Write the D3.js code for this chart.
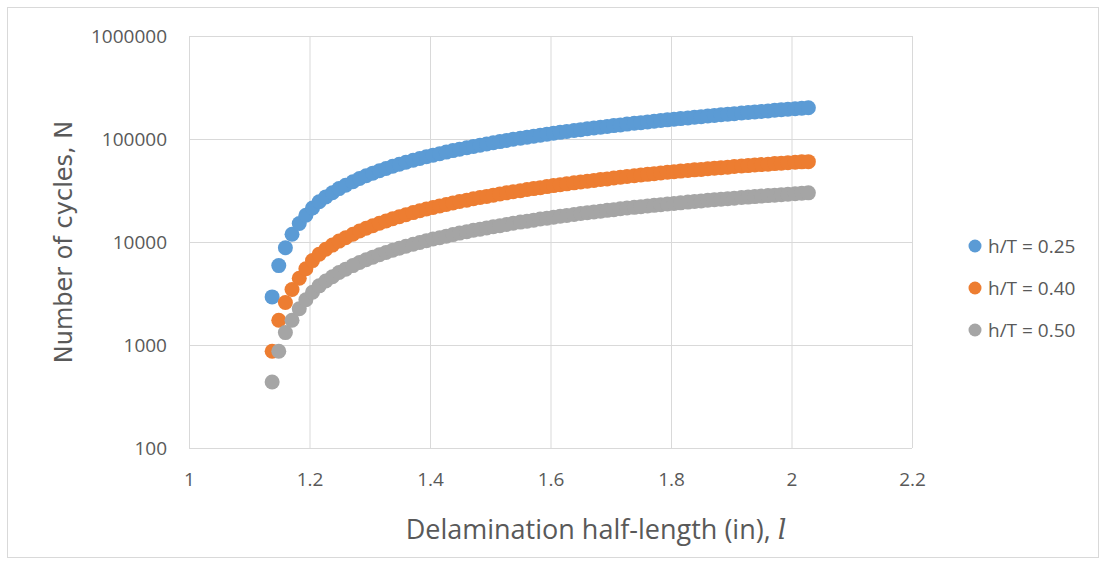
<!DOCTYPE html>
<meta charset="utf-8">

<style type="text/css">
  body {
  	margin: 0;
  	background: white;
  }

  .grid line {
  	stroke: #d9d9d9;
  	stroke-width: 1;
  }

  .grid path {
  	display: none;
  }

  .grid text {
  	fill: #595959;
  	font-family: "Open Sans", sans-serif;
  	font-size: 19px;
  }

  .axis-title {
  	fill: #595959;
  }

  .legend text {
  	fill: #595959;
  	font-family: "Open Sans", sans-serif;
  	font-size: 19px;
  }
</style>

<body>
	<div class="g-chart-container"></div>
</body>

<script src="https://d3js.org/d3.v7.min.js"></script>

<script>

// delamination half-length l (in) for each computed point
var halfLength = [
	1.138,1.149,1.160,1.171,1.183,1.194,1.205,1.216,1.227,1.238,
	1.249,1.260,1.272,1.283,1.294,1.305,1.316,1.327,1.338,1.349,
	1.360,1.372,1.383,1.394,1.405,1.416,1.427,1.438,1.449,1.461,
	1.472,1.483,1.494,1.505,1.516,1.527,1.538,1.550,1.561,1.572,
	1.583,1.594,1.605,1.616,1.627,1.639,1.650,1.661,1.672,1.683,
	1.694,1.705,1.716,1.727,1.739,1.750,1.761,1.772,1.783,1.794,
	1.805,1.816,1.828,1.839,1.850,1.861,1.872,1.883,1.894,1.905,
	1.917,1.928,1.939,1.950,1.961,1.972,1.983,1.994,2.006,2.017,
	2.028
];

// number of cycles N, h/T = 0.25
var cycles025 = [
	2930,5900,8800,11900,15100,18200,21400,24600,27400,30100,
	33000,35600,38500,41300,44000,46600,49200,51700,54300,56800,
	59400,62200,64700,67300,69700,72100,74600,77200,79600,82200,
	84700,87100,89500,92000,94400,96800,99300,101800,104200,106400,
	108900,111400,113800,116100,118300,121100,123300,125600,127900,130300,
	132400,134900,137100,139600,142200,144200,146600,148900,151000,153500,
	155600,157800,160300,162900,164800,167100,169400,171800,173800,176200,
	178600,180700,183200,185400,187500,190100,192300,194500,196800,199100,
	201000
];

// h/T = 0.40
var cycles040 = [
	870,1740,2590,3460,4450,5500,6600,7600,8500,9330,
	10200,11000,11900,12800,13600,14400,15200,16000,16800,17600,
	18400,19300,20100,20900,21600,22400,23100,23900,24700,25500,
	26300,27000,27700,28500,29300,30000,30800,31500,32300,33000,
	33700,34500,35300,36000,36700,37500,38200,38900,39600,40400,
	41000,41800,42500,43300,44000,44700,45400,46100,46800,47500,
	48200,48800,49500,50200,50700,51400,52000,52700,53300,54000,
	54700,55200,55900,56400,57000,57700,58300,58800,59400,60000,
	60300
];

// h/T = 0.50
var cycles050 = [
	437,870,1320,1740,2250,2750,3250,3750,4180,4600,
	5050,5450,5900,6320,6730,7130,7530,7920,8310,8700,
	9090,9520,9900,10300,10700,11000,11400,11800,12200,12600,
	13000,13300,13700,14100,14400,14800,15200,15600,15900,16300,
	16700,17000,17400,17800,18100,18500,18900,19200,19600,19900,
	20300,20600,21000,21400,21700,22000,22400,22700,23000,23400,
	23700,24000,24400,24700,25000,25400,25700,26000,26300,26600,
	27000,27300,27600,27900,28200,28500,28800,29100,29400,29700,
	30000
];

var seriesNames = ["h/T = 0.25", "h/T = 0.40", "h/T = 0.50"];
var seriesColors = ["#5b9bd5", "#ed7d31", "#a5a5a5"];

var xTicks = [1, 1.2, 1.4, 1.6, 1.8, 2, 2.2];
var yTicks = [100, 1000, 10000, 100000, 1000000];

var margin = {top: 36, right: 194, bottom: 117, left: 189};

var W = 1106, H = 565;
var w = W - margin.left - margin.right,
    h = H - margin.top - margin.bottom;

var xscale = d3.scaleLinear()
	.domain([1, 2.2])
	.range([0, w]);

var yscale = d3.scaleLog()
	.domain([100, 1000000])
	.range([h, 0]);

var xaxis = d3.axisBottom()
	.scale(xscale)
	.tickValues(xTicks)
	.tickFormat(d3.format(""))
	.tickSize(-h)
	.tickPadding(25);

var yaxis = d3.axisLeft()
	.scale(yscale)
	.tickValues(yTicks)
	.tickFormat(d3.format("d"))
	.tickSize(-w)
	.tickPadding(22);

var svg = d3.select(".g-chart-container").append("svg")
	.attr("width", W)
	.attr("height", H);

// light frame round the whole chart area
svg.append("rect")
	.attr("x", 7.5)
	.attr("y", 7.5)
	.attr("width", W - 15)
	.attr("height", H - 15)
	.attr("fill", "white")
	.attr("stroke", "#d9d9d9");

var chart = svg.append("g")
	.attr("transform", "translate(" + margin.left + "," + margin.top + ")");

chart.append("g")
	.attr("class", "grid")
	.attr("transform", "translate(0," + h + ")")
	.call(xaxis);

chart.append("g")
	.attr("class", "grid")
	.call(yaxis);

// one group per series, gray last so it sits on top
var series = seriesNames.map(function(name, i) {
	var vals = [cycles025, cycles040, cycles050][i];
	return {
		name: name,
		color: seriesColors[i],
		points: halfLength.map(function(l, j) { return {l: l, n: vals[j]}; })
	};
});

chart.selectAll(".series")
	.data(series)
	.enter()
	.append("g")
	.attr("class", "series")
	.attr("fill", function(d) { return d.color; })
	.selectAll("circle")
	.data(function(d) { return d.points; })
	.enter()
	.append("circle")
	.attr("cx", function(d) { return xscale(d.l); })
	.attr("cy", function(d) { return yscale(d.n); })
	.attr("r", 7.5);

// axis titles
svg.append("text")
	.attr("class", "axis-title")
	.attr("transform", "translate(72," + 242 + ") rotate(-90)")
	.attr("text-anchor", "middle")
	.style("font-family", "'DejaVu Sans', sans-serif")
	.style("font-size", "24px")
	.text("Number of cycles, N");

var xtitle = svg.append("text")
	.attr("class", "axis-title")
	.attr("x", 596)
	.attr("y", 539)
	.attr("text-anchor", "middle")
	.style("font-family", "'Open Sans', sans-serif")
	.style("font-size", "27px");

xtitle.append("tspan").text("Delamination half-length (in), ");
xtitle.append("tspan")
	.style("font-family", "'DejaVu Serif', serif")
	.style("font-style", "italic")
	.text("l");

// legend
var legend = svg.append("g")
	.attr("class", "legend")
	.attr("transform", "translate(975,246)");

var item = legend.selectAll(".item")
	.data(seriesNames)
	.enter()
	.append("g")
	.attr("class", "item")
	.attr("transform", function(d, i) { return "translate(0," + (i * 42) + ")"; });

item.append("circle")
	.attr("r", 6.5)
	.attr("fill", function(d, i) { return seriesColors[i]; });

item.append("text")
	.attr("x", 13)
	.attr("dy", "0.35em")
	.text(function(d) { return d; });

</script>
